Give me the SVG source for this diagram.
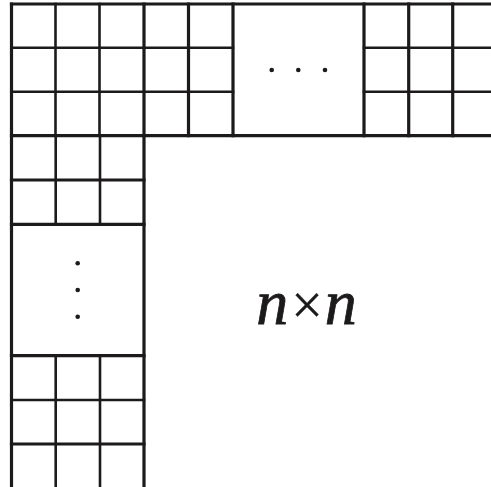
<svg xmlns="http://www.w3.org/2000/svg" width="491" height="487" viewBox="0 0 491 487">
<style>
.k{stroke:#1c1a1a;stroke-width:3.2;fill:none;stroke-linecap:square}
.t{stroke:#1c1a1a;stroke-width:2.6;fill:none;stroke-linecap:square}
.d{fill:#1c1a1a}
</style>
<rect width="491" height="487" fill="#fff"/>
<g id="top-row">
<line class="k" x1="11.5" y1="4" x2="491" y2="4"/>
<line class="k" x1="11.5" y1="135.7" x2="491" y2="135.7"/>
<line class="t" x1="11.5" y1="47.7" x2="233" y2="47.7"/>
<line class="t" x1="11.5" y1="91.7" x2="233" y2="91.7"/>
<line class="t" x1="364" y1="47.7" x2="491" y2="47.7"/>
<line class="t" x1="364" y1="91.7" x2="491" y2="91.7"/>
<line class="t" x1="55.5" y1="4" x2="55.5" y2="135.7"/>
<line class="t" x1="99.5" y1="4" x2="99.5" y2="135.7"/>
<line class="k" x1="188.5" y1="4" x2="188.5" y2="135.7"/>
<line class="k" x1="233" y1="4" x2="233" y2="135.7"/>
<line class="k" x1="364" y1="4" x2="364" y2="135.7"/>
<line class="k" x1="408.7" y1="4" x2="408.7" y2="135.7"/>
<line class="k" x1="452.7" y1="4" x2="452.7" y2="135.7"/>
<circle class="d" cx="271.7" cy="70" r="2.3"/>
<circle class="d" cx="298.3" cy="70" r="2.3"/>
<circle class="d" cx="325" cy="70" r="2.3"/>
</g>
<g id="left-column">
<line class="k" x1="11.5" y1="4" x2="11.5" y2="487"/>
<line class="k" x1="144" y1="4" x2="144" y2="487"/>
<line class="k" x1="11.5" y1="180" x2="144" y2="180"/>
<line class="k" x1="11.5" y1="224.3" x2="144" y2="224.3"/>
<line class="k" x1="11.5" y1="355.7" x2="144" y2="355.7"/>
<line class="t" x1="11.5" y1="400" x2="144" y2="400"/>
<line class="k" x1="11.5" y1="444" x2="144" y2="444"/>
<line class="t" x1="55.7" y1="135.7" x2="55.7" y2="224.3"/>
<line class="t" x1="100" y1="135.7" x2="100" y2="224.3"/>
<line class="t" x1="55.7" y1="355.7" x2="55.7" y2="487"/>
<line class="t" x1="100" y1="355.7" x2="100" y2="487"/>
<circle class="d" cx="77.7" cy="263.3" r="2.3"/>
<circle class="d" cx="77.7" cy="290" r="2.3"/>
<circle class="d" cx="77.7" cy="316.7" r="2.3"/>
</g>
<g id="label">
<text x="306.5" y="323.5" text-anchor="middle" font-family="'Liberation Serif', serif" font-size="64" fill="#1c1a1a" stroke="#1c1a1a" stroke-width="0.8"><tspan font-style="italic">n</tspan><tspan dx="3" font-size="56" stroke-width="0.3">×</tspan><tspan dx="2" font-style="italic">n</tspan></text>
</g>
</svg>
